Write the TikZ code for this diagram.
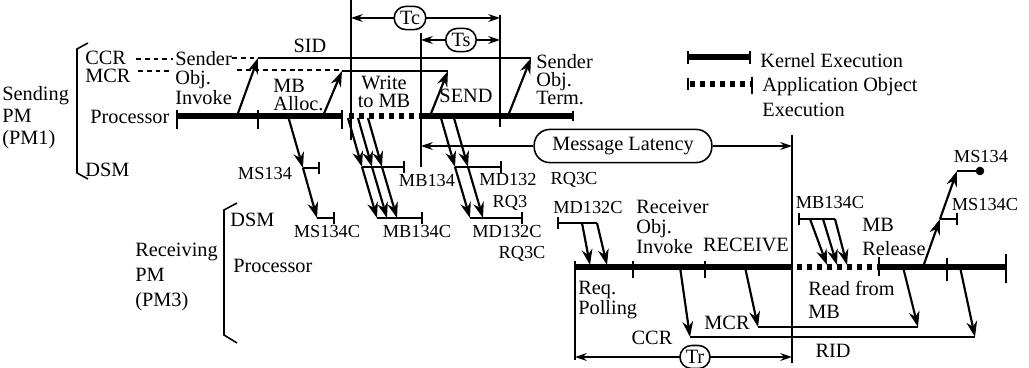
\documentclass[tikz,border=0pt]{standalone}
\usepackage{fontspec}
\setmainfont{Liberation Serif}
\usetikzlibrary{arrows.meta,positioning,calc}

\begin{document}
\begin{tikzpicture}[x=0.018cm, y=-0.018cm,
  lbl/.style={inner sep=0pt, align=left, font=\fontsize{10.4}{#1}\selectfont},
  lbl/.default=10pt,
  msgl/.style={inner sep=0pt, font=\fontsize{9.4}{10}\selectfont},
  kern/.style={line width=2.6pt},
  appl/.style={line width=2.6pt, dash pattern=on 2.8pt off 2.3pt},
  tk/.style={line width=0.9pt},
  ln/.style={line width=0.8pt},
  dsh/.style={line width=0.7pt, dash pattern=on 2.5pt off 2pt},
  ar/.style={line width=1.1pt, -{Stealth[length=8pt, width=5.5pt]}},
  dim/.style={line width=0.8pt, {Stealth[length=6pt, width=4pt]}-{Stealth[length=6pt, width=4pt]}},
  half/.style={line width=0.8pt, -{Stealth[length=6pt, width=4pt]}},
  stub/.style={line width=0.8pt, -{Bar[width=6pt]}},
  bstub/.style={line width=0.8pt, {Bar[width=6pt]}-},
  tag/.style={draw, line width=0.8pt, fill=white, rounded corners=6pt,
              inner xsep=3pt, inner ysep=2.5pt, font=\fontsize{10.4}{10}\selectfont}
]
\useasboundingbox (0,0) rectangle (1029,368);

% --- sending PM (PM1) ---------------------------------------------------
\node[lbl=11.3pt, anchor=west] (spm)   at (2,118)  {Sending\\PM\\(PM1)};
\draw[ln] (88,43) -- (77,49) -- (77,173) -- (88,179);
\node[lbl, anchor=west]        (sccr)  at (85,58)  {CCR};
\node[lbl, anchor=west]        (smcr)  at (85,76)  {MCR};
\node[lbl, anchor=west]        (sproc) at (90,117) {Processor};
\node[lbl, anchor=west]        (sdsm)  at (85,170) {DSM};
\node[lbl=9.8pt, anchor=west]  (sinv)  at (175,78) {Sender\\Obj.\\Invoke};
\node[lbl=9.4pt, anchor=west]  (alloc) at (273,95) {MB\\Alloc.};
\node[lbl=9.4pt, align=center] (wrmb)  at (384,92) {Write\\to MB};
\node[lbl]                     (send)  at (466,96) {SEND};
\node[lbl=9.2pt, anchor=west]  (sterm) at (536,80) {Sender\\Obj.\\Term.};
\node[lbl]                     (sid)   at (310,46) {SID};

\coordinate (s0) at (177,116);
\coordinate (s2) at (342,116);
\coordinate (s3) at (421,116);
\coordinate (s5) at (573,116);
\draw[kern] (s0) -- (s2);
\draw[appl] (349,116) -- (s3);
\draw[kern] (s3) -- (s5);
\foreach \x in {177,258,342} \draw[tk] (\x,110) -- (\x,129);
\draw[tk] (573,111) -- (573,121);

\draw[dsh] (136,59) -- (173,59);
\draw[dsh] (232,58) -- (258,58);
\draw[dsh] (138,71) -- (172,71);
\draw[dsh] (237,70) -- (342,70);
\draw[ln] (258,58) -- (531,58);
\draw[ln] (342,71) -- (448,71);
\draw[ar] (237,116) -- (258,58);
\draw[ar] (323,116) -- (342,71);
\draw[ar] (430,116) -- (448,71);
\draw[ar] (508,116) -- (531,58);

% --- time intervals -----------------------------------------------------
\draw[ln] (351,0) -- (351,140);
\draw[ln] (421,33) -- (421,167);
\draw[ln] (500,15) -- (500,127);
\draw[ln] (792,135) -- (792,363);
\draw[dim] (351,18) -- (500,18);
\node[tag] (tc) at (410,18) {Tc};
\draw[dim] (421,40) -- (500,40);
\node[tag] (ts) at (461,40) {Ts};
\node[tag, rounded corners=8pt, minimum width=91pt, minimum height=17pt] (lat) at (623,146) {Message Latency};
\draw[half] (lat.west) -- (421,146);
\draw[half] (lat.east) -- (792,146);

% --- messages over DSM ---------------------------------------------------
\draw[ar] (288,116) -- (303,168);
\draw[stub] (303,168) -- (320,168);
\draw[ar] (303,168) -- (317,218);
\draw[stub] (317,218) -- (335,218);
\node[msgl] (ms1)  at (265,174) {MS134};
\node[msgl] (ms1c) at (327,232) {MS134C};

\foreach \d in {0,10,20} {
  \draw[ar] (348+\d,118) -- (362+\d,167);
  \draw[ar] (362+\d,167) -- (377+\d,218);
}
\draw[stub] (362,167) -- (405,167);
\draw[stub] (377,218) -- (423,218);
\node[msgl] (mb1)  at (427,181) {MB134};
\node[msgl] (mb1c) at (417,232) {MB134C};

\foreach \d in {0,13} {
  \draw[ar] (441+\d,118) -- (455+\d,167);
  \draw[ar] (455+\d,167) -- (470+\d,218);
}
\draw[stub] (455,167) -- (502,167);
\draw[stub] (470,218) -- (523,218);
\node[msgl] (md1)  at (508,180) {MD132};
\node[msgl] (rq3c) at (574,180) {RQ3C};
\node[msgl] (rq3)  at (510,203) {RQ3};
\node[msgl] (md1c) at (507,232) {MD132C};
\node[msgl] (rq3d) at (522,254) {RQ3C};

% --- receiving PM (PM3) -------------------------------------------------
\node[lbl=12.8pt, anchor=west] (rpm)   at (135,277) {Receiving\\PM\\(PM3)};
\draw[ln] (237,203) -- (224,210) -- (224,335) -- (237,343);
\node[lbl, anchor=west]        (rdsm)  at (230,220) {DSM};
\node[lbl, anchor=west]        (rproc) at (233,266) {Processor};

\draw[kern] (575,267) -- (792,267);
\draw[appl] (797,267) -- (877,267);
\draw[kern] (879,267) -- (1006,267);
\foreach \x in {633,705} \draw[tk] (\x,261) -- (\x,278);
\draw[tk] (879,257) -- (879,276);
\draw[tk] (947,258) -- (947,281);
\draw[tk] (1006,254) -- (1006,283);
\draw[ln] (575,261) -- (575,360);

\node[msgl] (md2c) at (588,208) {MD132C};
\draw[bstub] (557,223) -- (597,223);
\draw[ar] (582,223) -- (590,265);
\draw[ar] (597,223) -- (607,265);
\node[lbl=10.2pt, anchor=west] (rinv) at (636,227) {Receiver\\Obj.\\Invoke};
\node[lbl] (recv) at (746,245) {RECEIVE};
\node[lbl=10pt, anchor=west]   (poll) at (578,300) {Req.\\Polling};
\node[lbl=11.8pt, anchor=west] (rdmb) at (808,300) {Read from\\MB};
\node[lbl=12.3pt, anchor=west] (rel)  at (862,237) {MB\\Release};

\node[msgl] (mb2c) at (830,203) {MB134C};
\draw[bstub] (798,219) -- (835,219);
\foreach \a/\b in {810/827,823/837,835/847}
  \draw[ar] (\a,219) -- (\b,265);

\draw[ar] (923,267) -- (940,219);
\draw[stub] (940,219) -- (958,219);
\draw[ar] (940,219) -- (957,171);
\draw[ln] (957,171) -- (980,171);
\fill (980,171) circle (2.2pt);
\node[msgl] (ms2)  at (981,157) {MS134};
\node[msgl] (ms2c) at (985,205) {MS134C};

\draw[ar] (680,267) -- (690,337);
\draw[ln] (690,337) -- (975,337);
\draw[ar] (960,267) -- (975,337);
\draw[ar] (745,267) -- (758,327);
\draw[ln] (758,327) -- (918,327);
\draw[ar] (903,267) -- (918,327);
\node[lbl] (rccr) at (652,338) {CCR};
\node[lbl] (rmcr) at (727,323) {MCR};
\node[lbl] (rid)  at (833,351) {RID};

\draw[dim] (575,357) -- (792,357);
\node[tag] (tr) at (695,357) {Tr};

% --- legend --------------------------------------------------------------
\draw[kern] (688,57) -- (750,57);
\foreach \x in {688,750} \draw[tk] (\x,51) -- (\x,64);
\node[lbl, anchor=west] (lgk) at (760,61) {Kernel Execution};
\draw[appl] (690,84) -- (750,84);
\draw[tk] (688,78) -- (688,90);
\draw[tk] (752,77) -- (752,94);
\node[lbl=12.8pt, anchor=west] (lga) at (762,97) {Application Object\\Execution};
\end{tikzpicture}
\end{document}
